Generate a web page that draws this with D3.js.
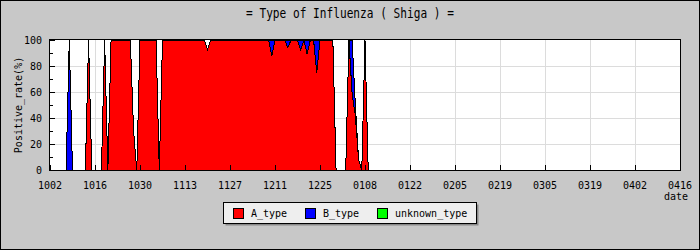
<!DOCTYPE html>
<html>
<head>
<meta charset="utf-8">
<script src="https://cdn.jsdelivr.net/npm/d3@7"></script>
<style>
  body { margin: 0; background: #c8c8c8; }
  text { font-family: "DejaVu Sans Mono", monospace; fill: #000; }
</style>
</head>
<body>
<div id="chart"></div>
<script>
// first day of the season (day 0 of the series)
var startDay = "2006-10-02";

var tickLabels = ["1002", "1016", "1030", "1113", "1127", "1211", "1225", "0108",
                  "0122", "0205", "0219", "0305", "0319", "0402", "0416"];
var yTicks = [0, 20, 40, 60, 80, 100];

var seriesNames = ["A_type", "B_type", "unknown_type"];
var seriesColors = ["#ff0000", "#0000ff", "#00ff00"];

// daily positive rate (%), one value per day from startDay
var A_type = [
  0, 0, 0, 0, 0, 0, 0, 0, 0, 0,            // d0-9
  0, 0, 100, 0, 0, 0, 0, 100, 0, 100,      // d10-19
  100, 100, 100, 100, 100, 100, 30, 0, 100, 100,
  100, 100, 100, 100, 0, 100, 100, 100, 100, 100,
  100, 100, 100, 100, 100, 100, 100, 100, 100, 93,
  100, 100, 100, 100, 100, 100, 100, 100, 100, 100,
  100, 100, 100, 100, 100, 100, 100, 100, 100, 88,
  100, 100, 100, 100, 94, 100, 100, 100, 92, 100,
  89, 100, 100, 75, 100, 100, 100, 100, 100, 0,
  0, 0, 0, 100, 58, 42, 8, 0, 100, 0,
  0
];
var B_type = [
  0, 0, 0, 0, 0, 0, 100, 0, 0, 0,
  0, 0, 0, 0, 0, 0, 0, 0, 0, 0,
  0, 0, 0, 0, 0, 0, 0, 0, 0, 0,
  0, 0, 0, 0, 0, 0, 0, 0, 0, 0,
  0, 0, 0, 0, 0, 0, 0, 0, 0, 0,
  0, 0, 0, 0, 0, 0, 0, 0, 0, 0,
  0, 0, 0, 0, 0, 0, 0, 0, 0, 12,
  0, 0, 0, 0, 6, 0, 0, 0, 8, 0,
  11, 0, 0, 25, 0, 0, 0, 0, 0, 0,
  0, 0, 0, 0, 42, 8, 0, 0, 0, 0,
  0
];
var unknown_type = [
  0, 0, 0, 0, 0, 0, 0, 0, 0, 0,
  0, 0, 0, 0, 0, 0, 0, 0, 0, 0,
  0, 0, 0, 0, 0, 0, 0, 0, 0, 0,
  0, 0, 0, 0, 0, 0, 0, 0, 0, 0,
  0, 0, 0, 0, 0, 0, 0, 0, 0, 0,
  0, 0, 0, 0, 0, 0, 0, 0, 0, 0,
  0, 0, 0, 0, 0, 0, 0, 0, 0, 0,
  0, 0, 0, 0, 0, 0, 0, 0, 0, 0,
  0, 0, 0, 0, 0, 0, 0, 0, 0, 0,
  0, 0, 0, 0, 0, 0, 0, 0, 0, 0,
  0
];

var W = 700, H = 250;
var margin = {top: 40, right: 20, bottom: 80, left: 50};
var pw = W - margin.left - margin.right,
    ph = H - margin.top - margin.bottom;

var day0 = d3.utcParse("%Y-%m-%d")(startDay);

// tick label "mmdd" -> date (months before October belong to the next year)
function labelDate(s) {
  var m = +s.slice(0, 2), d = +s.slice(2);
  return new Date(Date.UTC(day0.getUTCFullYear() + (m < 10 ? 1 : 0), m - 1, d));
}
var tickDates = tickLabels.map(labelDate);

var rows = A_type.map(function(v, i) {
  return {date: d3.utcDay.offset(day0, i), A_type: v, B_type: B_type[i], unknown_type: unknown_type[i]};
});

var x = d3.scaleUtc()
    .domain([tickDates[0], tickDates[tickDates.length - 1]])
    .range([0, pw]);
var y = d3.scaleLinear().domain([0, 100]).range([ph, 0]);

var svg = d3.select("#chart").append("svg")
    .attr("width", W).attr("height", H);

svg.append("rect")
    .attr("x", 0.5).attr("y", 0.5)
    .attr("width", W - 1).attr("height", H - 1)
    .attr("fill", "#c8c8c8").attr("stroke", "#000");

svg.append("text")
    .attr("x", W / 2).attr("y", 18)
    .attr("text-anchor", "middle")
    .attr("font-size", 14)
    .attr("textLength", 208).attr("lengthAdjust", "spacingAndGlyphs")
    .text("= Type of Influenza ( Shiga ) =");

var g = svg.append("g")
    .attr("transform", "translate(" + margin.left + "," + margin.top + ")");

// plot background and grid
g.append("rect").attr("width", pw).attr("height", ph).attr("fill", "#fff");

g.selectAll(".vgrid")
    .data(tickDates.slice(1, -1))
    .enter().append("line")
    .attr("x1", function(d) { return Math.round(x(d)) + 0.5; })
    .attr("x2", function(d) { return Math.round(x(d)) + 0.5; })
    .attr("y1", 0).attr("y2", ph)
    .attr("stroke", "#dcdcdc");

g.selectAll(".hgrid")
    .data(yTicks.slice(1, -1))
    .enter().append("line")
    .attr("x1", 0).attr("x2", pw)
    .attr("y1", function(d) { return Math.round(y(d)) + 0.5; })
    .attr("y2", function(d) { return Math.round(y(d)) + 0.5; })
    .attr("stroke", "#dcdcdc");

// stacked areas
var stack = d3.stack().keys(seriesNames);
var layers = stack(rows);

var area = d3.area()
    .x(function(d) { return x(d.data.date); })
    .y0(function(d) { return y(d[0]); })
    .y1(function(d) { return y(d[1]); });

var line = d3.line()
    .x(function(d) { return x(d.data.date); })
    .y(function(d) { return y(d[1]); });

g.selectAll(".layer")
    .data(layers)
    .enter().append("path")
    .attr("d", area)
    .attr("fill", function(d, i) { return seriesColors[i]; })
    .attr("shape-rendering", "crispEdges");

g.selectAll(".edge")
    .data(layers)
    .enter().append("path")
    .attr("d", line)
    .attr("fill", "none")
    .attr("stroke", "#000")
    .attr("stroke-width", 1)
    .attr("shape-rendering", "crispEdges");

// frame
g.append("rect")
    .attr("x", -0.5).attr("y", -0.5)
    .attr("width", pw + 1).attr("height", ph + 1)
    .attr("fill", "none").attr("stroke", "#000");

// x ticks and labels
g.selectAll(".xtick")
    .data(tickDates)
    .enter().append("line")
    .attr("x1", function(d) { return Math.round(x(d)) + 0.5; })
    .attr("x2", function(d) { return Math.round(x(d)) + 0.5; })
    .attr("y1", ph).attr("y2", ph - 5)
    .attr("stroke", "#000");

g.selectAll(".xlab")
    .data(tickDates)
    .enter().append("text")
    .attr("x", function(d) { return x(d); })
    .attr("y", ph + 19)
    .attr("text-anchor", "middle")
    .attr("font-size", 10)
    .text(function(d, i) { return tickLabels[i]; });

g.append("text")
    .attr("x", pw + 8).attr("y", ph + 30)
    .attr("text-anchor", "end")
    .attr("font-size", 10)
    .text("date");

// y ticks and labels
var yMinor = [10, 30, 50, 70, 90];
g.selectAll(".ytick")
    .data(yTicks)
    .enter().append("line")
    .attr("x1", 0).attr("x2", 5)
    .attr("y1", function(d) { return Math.round(y(d)) + 0.5; })
    .attr("y2", function(d) { return Math.round(y(d)) + 0.5; })
    .attr("stroke", "#000");
g.selectAll(".ytickm")
    .data(yMinor)
    .enter().append("line")
    .attr("x1", 0).attr("x2", 3)
    .attr("y1", function(d) { return Math.round(y(d)) + 0.5; })
    .attr("y2", function(d) { return Math.round(y(d)) + 0.5; })
    .attr("stroke", "#000");

g.selectAll(".ylab")
    .data(yTicks)
    .enter().append("text")
    .attr("x", -8)
    .attr("y", function(d) { return y(d); })
    .attr("dy", "0.35em")
    .attr("text-anchor", "end")
    .attr("font-size", 10)
    .text(function(d) { return d; });

svg.append("text")
    .attr("transform", "translate(22," + (margin.top + ph / 2) + ") rotate(-90)")
    .attr("text-anchor", "middle")
    .attr("font-size", 10)
    .text("Positive_rate(%)");

// legend
var lg = svg.append("g").attr("transform", "translate(223,202)");
lg.append("rect").attr("x", 2.5).attr("y", 2.5).attr("width", 253).attr("height", 21).attr("fill", "#888");
lg.append("rect").attr("x", 0.5).attr("y", 0.5).attr("width", 253).attr("height", 21)
    .attr("fill", "#eeeeee").attr("stroke", "#000");
var legendX = [10, 82, 154];
var item = lg.selectAll(".item")
    .data(seriesNames)
    .enter().append("g")
    .attr("transform", function(d, i) { return "translate(" + legendX[i] + ",0)"; });
item.append("rect")
    .attr("x", 0.5).attr("y", 6.5).attr("width", 10).attr("height", 10)
    .attr("fill", function(d, i) { return seriesColors[i]; })
    .attr("stroke", "#000");
item.append("text")
    .attr("x", 18).attr("y", 15)
    .attr("font-size", 10)
    .text(function(d) { return d; });
</script>
</body>
</html>
